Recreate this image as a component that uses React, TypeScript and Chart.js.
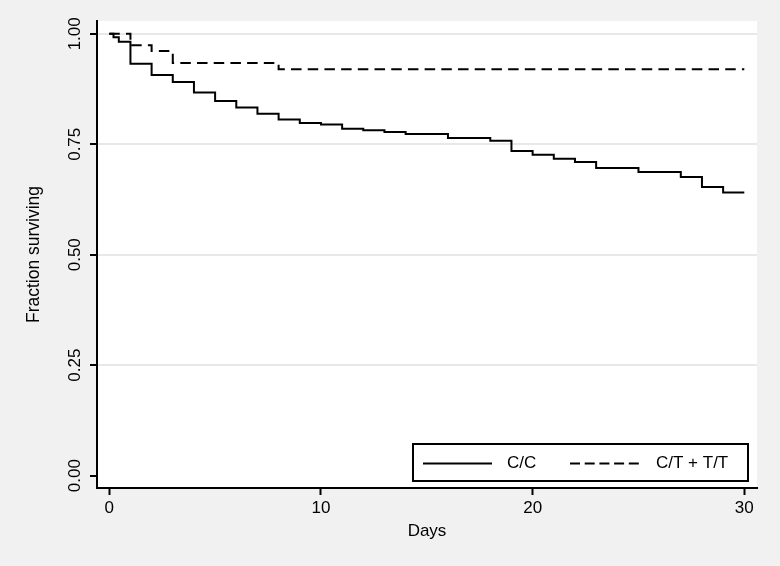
import React, { useEffect, useRef } from "react";
import { Chart, registerables } from "chart.js";

Chart.register(...registerables);

// C/C group: event times (days) and survival fraction after each step
const ccDays = [0, 0.2, 0.45, 1, 2, 3, 4, 5, 6, 7, 8, 9, 10, 11, 12, 13, 14, 16, 18, 19, 20, 21, 22, 23, 25, 27, 28, 29, 30];
const ccSurv = [1, 0.992, 0.982, 0.932, 0.907, 0.891, 0.867, 0.848, 0.833, 0.819, 0.806, 0.798, 0.795, 0.785, 0.782, 0.778, 0.773, 0.764, 0.758, 0.735, 0.726, 0.717, 0.71, 0.696, 0.687, 0.676, 0.653, 0.641, 0.641];

// C/T + T/T group
const ctDays = [0, 1, 2, 3, 8, 30];
const ctSurv = [1, 0.974, 0.961, 0.934, 0.92, 0.92];

const seriesLabels = ["C/C", "C/T + T/T"];
const xTickValues = [0, 10, 20, 30];
const yTickValues = [0, 0.25, 0.5, 0.75, 1];
const xTitle = "Days";
const yTitle = "Fraction surviving";

const FONT = "'Liberation Sans', Arial, Helvetica, sans-serif";

const bgPlugin = {
  id: "bgPlugin",
  beforeDraw(chart: any) {
    const { ctx, chartArea, width, height } = chart;
    ctx.save();
    ctx.fillStyle = "#f1f1f1";
    ctx.fillRect(0, 0, width, height);
    ctx.fillStyle = "#ffffff";
    ctx.fillRect(chartArea.left, chartArea.top, chartArea.right - chartArea.left, chartArea.bottom - chartArea.top);
    ctx.restore();
  },
};

const legendPlugin = {
  id: "boxLegend",
  afterDraw(chart: any) {
    const { ctx, chartArea } = chart;
    const boxW = 335;
    const boxH = 37;
    const right = chartArea.right - 9;
    const bottom = chartArea.bottom - 7;
    const left = right - boxW;
    const top = bottom - boxH;
    ctx.save();
    ctx.fillStyle = "#ffffff";
    ctx.fillRect(left, top, boxW, boxH);
    ctx.strokeStyle = "#000000";
    ctx.lineWidth = 2;
    ctx.strokeRect(left, top, boxW, boxH);
    const cy = top + boxH / 2 + 1;
    const items = [
      { sx: 10, sw: 69, tx: 94, dash: [] as number[] },
      { sx: 157, sw: 72, tx: 243, dash: [10, 4.7] },
    ];
    chart.data.datasets.forEach((ds: any, i: number) => {
      const it = items[i];
      ctx.beginPath();
      ctx.setLineDash(it.dash);
      ctx.lineWidth = 2;
      ctx.strokeStyle = "#000000";
      ctx.moveTo(left + it.sx, cy);
      ctx.lineTo(left + it.sx + it.sw, cy);
      ctx.stroke();
      ctx.setLineDash([]);
      ctx.fillStyle = "#000000";
      ctx.font = `17px ${FONT}`;
      ctx.textAlign = "left";
      ctx.textBaseline = "middle";
      ctx.fillText(ds.label, left + it.tx, cy);
    });
    ctx.restore();
  },
};

export default function App() {
  const ref = useRef<HTMLCanvasElement | null>(null);

  useEffect(() => {
    if (!ref.current) return;
    const chart = new Chart(ref.current, {
      type: "line",
      data: {
        datasets: [
          {
            label: seriesLabels[0],
            data: ccDays.map((d, i) => ({ x: d, y: ccSurv[i] })),
            borderColor: "#000000",
            borderWidth: 2,
            stepped: "before",
            pointRadius: 0,
            fill: false,
          },
          {
            label: seriesLabels[1],
            data: ctDays.map((d, i) => ({ x: d, y: ctSurv[i] })),
            borderColor: "#000000",
            borderWidth: 2,
            borderDash: [10.5, 6.2],
            stepped: "before",
            pointRadius: 0,
            fill: false,
          },
        ],
      },
      options: {
        responsive: false,
        animation: false,
        devicePixelRatio: 1,
        layout: { padding: { left: 0, top: 21, right: 23, bottom: 0 } },
        plugins: {
          legend: { display: false },
          tooltip: { enabled: false },
        },
        scales: {
          x: {
            type: "linear",
            min: -0.58,
            max: 30.6,
            afterBuildTicks: (scale: any) => {
              scale.ticks = xTickValues.map((v) => ({ value: v }));
            },
            afterFit: (scale: any) => {
              scale.height = 78;
            },
            grid: {
              drawOnChartArea: false,
              drawTicks: true,
              tickLength: 7,
              tickColor: "#000000",
              tickWidth: 2,
            },
            border: { display: true, color: "#000000", width: 2 },
            ticks: {
              autoSkip: false,
              maxRotation: 0,
              minRotation: 0,
              padding: 3,
              color: "#000000",
              font: { family: FONT, size: 17 },
              callback: (v: any) => String(v),
            },
            title: {
              display: true,
              text: xTitle,
              color: "#000000",
              font: { family: FONT, size: 17 },
              padding: { top: 0, bottom: 24 },
            },
          },
          y: {
            type: "linear",
            min: -0.028,
            max: 1.029,
            afterBuildTicks: (scale: any) => {
              scale.ticks = yTickValues.map((v) => ({ value: v }));
            },
            afterFit: (scale: any) => {
              scale.width = 97;
            },
            grid: {
              drawOnChartArea: true,
              color: (c: any) => (c.tick && c.tick.value === 0 ? "rgba(0,0,0,0)" : "#e8e8e8"),
              lineWidth: 2,
              drawTicks: true,
              tickLength: 7,
              tickColor: "#000000",
              tickWidth: 2,
            },
            border: { display: true, color: "#000000", width: 2 },
            ticks: {
              autoSkip: false,
              minRotation: 90,
              maxRotation: 90,
              crossAlign: "center",
              padding: -1.5,
              color: "#000000",
              font: { family: FONT, size: 17 },
              callback: (v: any) => Number(v).toFixed(2),
            },
            title: {
              display: true,
              text: yTitle,
              color: "#000000",
              font: { family: FONT, size: 17.5 },
              padding: { top: 24, bottom: 0 },
            },
          },
        },
      },
      plugins: [bgPlugin, legendPlugin],
    } as any);
    return () => chart.destroy();
  }, []);

  return (
    <div style={{ position: "absolute", left: 0, top: 0, width: 780, height: 566 }}>
      <canvas ref={ref} width={780} height={566} style={{ display: "block", width: 780, height: 566 }} />
    </div>
  );
}
